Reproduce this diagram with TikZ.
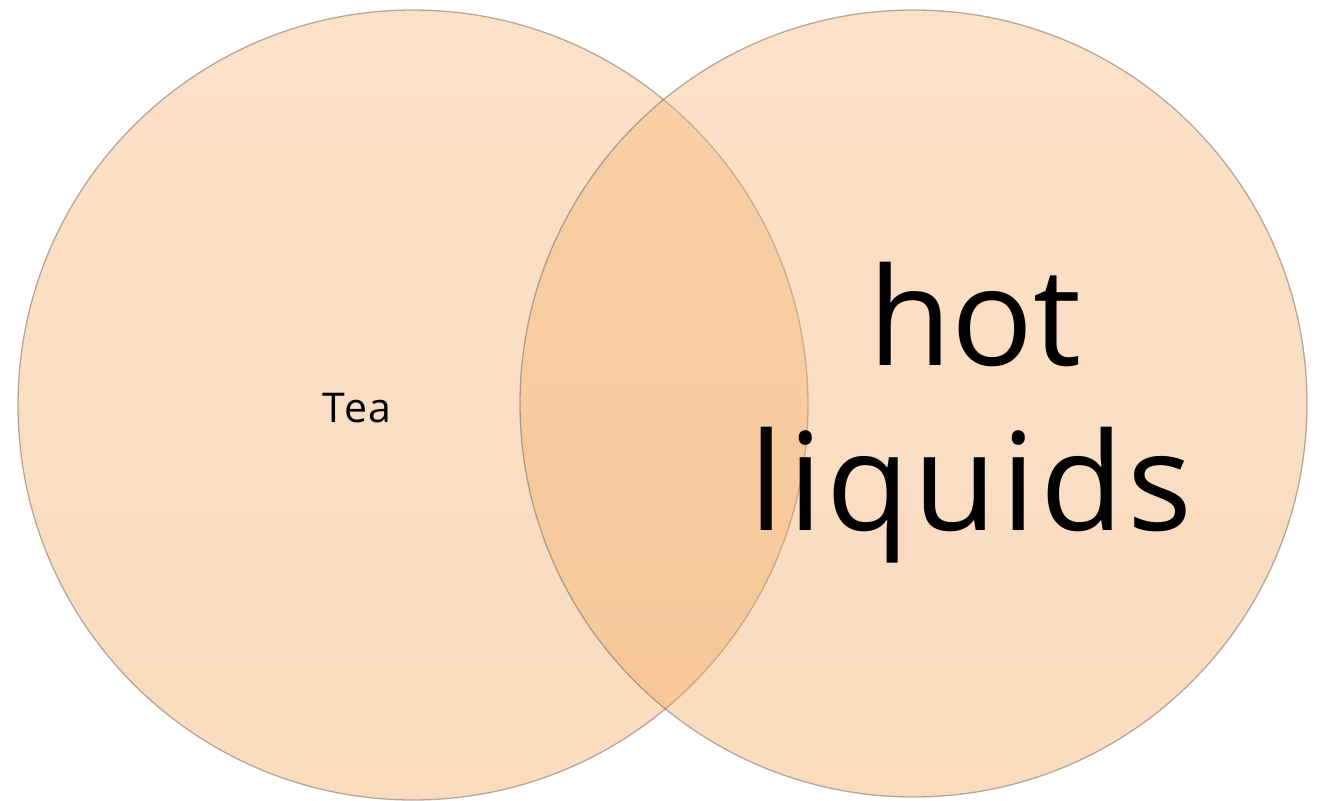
\documentclass[tikz,border=0pt]{standalone}
\usepackage{fontspec}
\setmainfont{Open Sans}
\definecolor{peachtop}{RGB}{245,180,118}
\definecolor{peachbot}{RGB}{242,166,92}
\definecolor{rimgray}{RGB}{120,110,100}
\tikzset{
  venn/.style={circle, inner sep=0pt, draw=rimgray, draw opacity=0.55, line width=1.3pt,
    top color=peachtop, bottom color=peachbot, fill opacity=0.4},
  lbl/.style={anchor=base, inner sep=0pt},
}
\begin{document}
\begin{tikzpicture}[x=1pt,y=-1pt]
\useasboundingbox (0,0) rectangle (1319,800);
\node[venn, minimum size=790pt] (L) at (413,405) {};
\node[venn, minimum size=787pt] (R) at (913.5,403.5) {};
\node[lbl, font=\fontsize{41}{48}\selectfont\addfontfeature{LetterSpace=4}] (tea) at (357,422) {Tea};
\node[lbl, font=\fontsize{136}{165}\selectfont] (hot) at (975,365) {hot};
\node[lbl, font=\fontsize{136}{165}\selectfont\addfontfeature{LetterSpace=3}] (liq) at (971,530) {liquids};
\end{tikzpicture}
\end{document}
